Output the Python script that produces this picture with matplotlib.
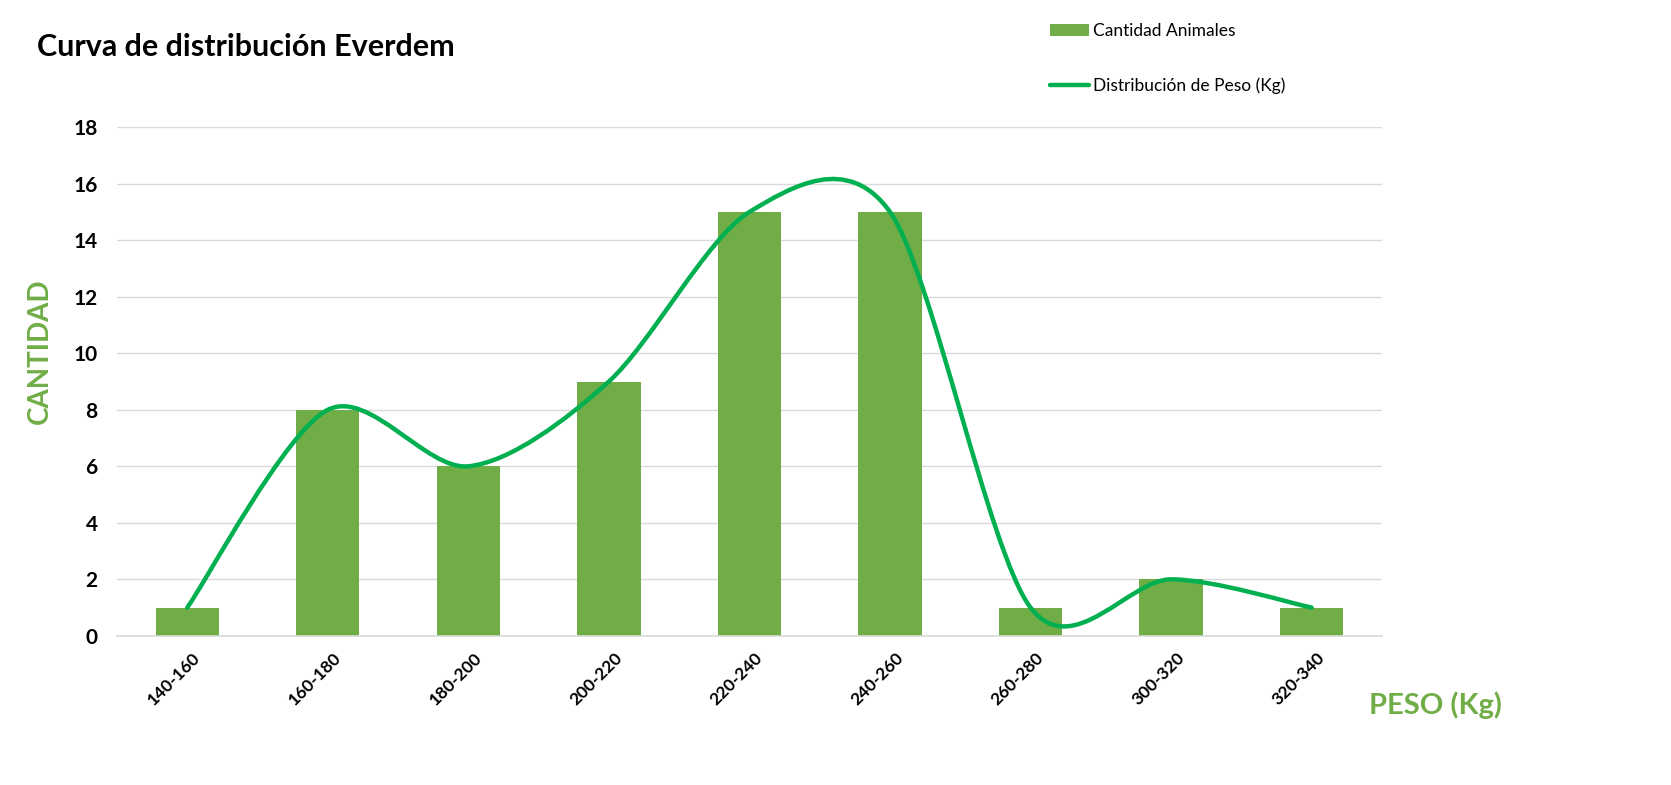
import matplotlib
matplotlib.use("Agg")
import matplotlib.pyplot as plt
from matplotlib.path import Path
from matplotlib.patches import PathPatch
from matplotlib.lines import Line2D
from matplotlib.patches import Patch
import matplotlib.transforms as mtrans

categories = ["140-160", "160-180", "180-200", "200-220", "220-240",
              "240-260", "260-280", "300-320", "320-340"]
cantidad = [1, 8, 6, 9, 15, 15, 1, 2, 1]
distribucion = [1, 8, 6, 9, 15, 15, 1, 2, 1]
yticks = [0, 2, 4, 6, 8, 10, 12, 14, 16, 18]

BAR = "#70AD47"
LINE = "#00B050"
GRID = "#D9D9D9"

plt.rcParams['font.family'] = ['Lato', 'DejaVu Sans']

fig = plt.figure(figsize=(16.71, 7.85), dpi=100)
ax = fig.add_axes([0.070, 0.190, 0.757, 0.648])

x = list(range(len(categories)))
ax.bar(x, cantidad, width=0.45, color=BAR, zorder=2)

# Smoothed line (Excel-style Bezier through the data points)
K = 0.15
pts = list(zip(x, distribucion))
verts = [pts[0]]
codes = [Path.MOVETO]
n = len(pts)
for i in range(n - 1):
    p0 = pts[i - 1] if i > 0 else pts[i]
    p1 = pts[i]
    p2 = pts[i + 1]
    p3 = pts[i + 2] if i + 2 < n else pts[i + 1]
    c1 = (p1[0] + (p2[0] - p0[0]) * K, p1[1] + (p2[1] - p0[1]) * K)
    c2 = (p2[0] - (p3[0] - p1[0]) * K, p2[1] - (p3[1] - p1[1]) * K)
    verts += [c1, c2, p2]
    codes += [Path.CURVE4] * 3
path = Path(verts, codes)
ax.add_patch(PathPatch(path, facecolor='none', edgecolor=LINE, lw=3.2,
                       capstyle='round', zorder=3))

ax.set_xlim(-0.5, len(categories) - 0.5)
ax.set_ylim(0, 18)
ax.set_yticks(yticks)
ax.set_yticklabels([str(v) for v in yticks], fontsize=15, fontweight='bold')
ax.tick_params(axis='y', length=0, pad=14)
ax.set_xticks(x)
ax.set_xticklabels(categories, fontsize=12.5, fontweight='bold', rotation=45,
                   ha='right', rotation_mode='anchor')
ax.tick_params(axis='x', length=0, pad=10)
offset = mtrans.ScaledTranslation(5 / 100, 0, fig.dpi_scale_trans)
for lab in ax.get_xticklabels():
    lab.set_transform(lab.get_transform() + offset)

ax.grid(axis='y', color=GRID, lw=1.0, zorder=0)
for s in ['top', 'right', 'left']:
    ax.spines[s].set_visible(False)
ax.spines['bottom'].set_color(GRID)
ax.spines['bottom'].set_linewidth(1.2)

fig.text(0.022, 0.94, "Curva de distribución Everdem", fontsize=22,
         fontweight='bold', ha='left', va='center')
fig.text(0.024, 0.552, "CANTIDAD", fontsize=20, fontweight='bold', color=BAR,
         rotation=90, ha='center', va='center')
fig.text(0.859, 0.102, "PESO (Kg)", fontsize=21, fontweight='bold', color=BAR,
         ha='center', va='center')

handles = [Patch(facecolor=BAR, edgecolor='none'),
           Line2D([0], [0], color=LINE, lw=3.2, solid_capstyle='round')]
leg = fig.legend(handles, ["Cantidad Animales", "Distribución de Peso (Kg)"],
                 loc='upper left', bbox_to_anchor=(0.6193, 0.99), frameon=False,
                 fontsize=12.5, handlelength=2.2, handletextpad=0.25,
                 labelspacing=2.2)

fig.savefig("out.png", dpi=100)
